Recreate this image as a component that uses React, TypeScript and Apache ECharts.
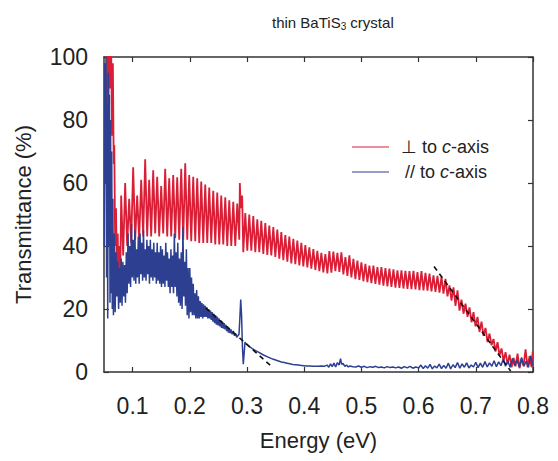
import React, { useEffect, useRef } from "react";
import * as echarts from "echarts";

const xTicks = [0.1, 0.2, 0.3, 0.4, 0.5, 0.6, 0.7, 0.8];
const yTicks = [0, 20, 40, 60, 80, 100];

// ⊥ to c-axis (energy eV, transmittance %)
const redPerp: [number, number][] = [
  [0.0545, 60], [0.0555, 104], [0.0575, 82], [0.059, 104], [0.061, 90], [0.0625, 104], [0.064, 75], [0.0655, 98],
  [0.067, 66], [0.068, 72], [0.0695, 40], [0.071, 52], [0.0725, 32], [0.074, 44], [0.0755, 25], [0.077, 40], [0.0785, 30],
  [0.080, 56], [0.0835, 37], [0.087, 60], [0.0905, 40], [0.094, 55], [0.0975, 41], [0.101, 65], [0.1045, 42],
  [0.108, 56], [0.1115, 42], [0.115, 61], [0.1185, 43], [0.122, 67.5], [0.1255, 43], [0.129, 61], [0.1325, 43],
  [0.136, 64], [0.1395, 44], [0.143, 62], [0.1465, 43], [0.150, 59], [0.1535, 44], [0.157, 64.5], [0.1605, 43],
  [0.164, 61.5], [0.1675, 43], [0.171, 62.5], [0.1745, 42.5], [0.178, 61.8], [0.1815, 42], [0.185, 64.5], [0.1885, 42],
  [0.192, 66.3], [0.1955, 42], [0.199, 62.5], [0.2025, 41.5], [0.206, 62], [0.2095, 41.5], [0.213, 61.5], [0.2165, 41],
  [0.220, 60.5], [0.2235, 41], [0.227, 59.5], [0.2305, 41], [0.234, 58.6], [0.2375, 41], [0.241, 57.5], [0.2445, 40.5],
  [0.248, 57], [0.2515, 40.5], [0.255, 56], [0.2585, 40.5], [0.262, 55.5], [0.2655, 40], [0.269, 54.5], [0.2725, 40],
  [0.276, 54], [0.2795, 40], [0.283, 53.5], [0.2865, 42], [0.2875, 60], [0.289, 52], [0.2915, 56], [0.2935, 38],
  [0.297, 50.5], [0.3005, 38.5], [0.304, 50], [0.3075, 38.5], [0.311, 49.5], [0.3145, 38], [0.318, 48.5], [0.3215, 38],
  [0.325, 48], [0.3285, 37.5], [0.332, 47.3], [0.3355, 37.2], [0.339, 46.5], [0.3425, 37], [0.346, 46], [0.3495, 36.5],
  [0.353, 45.2], [0.3565, 36], [0.360, 44.4], [0.3635, 35.5], [0.367, 43.5], [0.3705, 35], [0.374, 43], [0.3775, 34.5],
  [0.381, 42.3], [0.3845, 34.2], [0.388, 41.7], [0.3915, 33.8], [0.395, 41], [0.3985, 33.5], [0.402, 40.3], [0.4055, 33.2],
  [0.409, 39.6], [0.4125, 32.8], [0.416, 39], [0.4195, 32.4], [0.423, 38.5], [0.4265, 32], [0.430, 37.8], [0.4335, 31.6],
  [0.437, 37.4], [0.4405, 31.3], [0.444, 38.4], [0.4475, 31.5], [0.451, 38.2], [0.4545, 32], [0.458, 37.8], [0.4615, 31.8],
  [0.465, 38], [0.4685, 31], [0.472, 36.5], [0.4755, 30.5], [0.479, 37], [0.4825, 30], [0.486, 35.9], [0.4895, 29.5],
  [0.493, 35.4], [0.4965, 29.2], [0.500, 34.8], [0.5035, 28.8], [0.507, 34.3], [0.5105, 28.5], [0.514, 33.8], [0.5175, 28.2],
  [0.521, 33.8], [0.5245, 28], [0.528, 33.3], [0.5315, 27.7], [0.535, 33.3], [0.5385, 27.4], [0.542, 33], [0.5455, 27.2],
  [0.549, 32.8], [0.5525, 27], [0.556, 32.6], [0.5595, 26.8], [0.563, 32.3], [0.5665, 26.7], [0.570, 32.3], [0.5735, 26.5],
  [0.577, 32.1], [0.5805, 26.4], [0.584, 32], [0.5875, 26.3], [0.591, 32.1], [0.5945, 26.2], [0.598, 31.7], [0.6015, 26],
  [0.605, 32], [0.6085, 25.9], [0.612, 31.5], [0.6155, 25.8], [0.619, 31.2], [0.6225, 25.6], [0.626, 30.7], [0.6295, 25.4],
  [0.633, 30.5], [0.6365, 25.2], [0.640, 30.2], [0.6435, 24.9], [0.647, 29.6], [0.6505, 24], [0.654, 27.5], [0.6575, 22.7],
  [0.661, 26.9], [0.6645, 21], [0.668, 25.9], [0.6715, 19.5], [0.675, 23], [0.6785, 18.5], [0.682, 21.7], [0.6855, 17.5],
  [0.689, 20.5], [0.6925, 15.8], [0.696, 19], [0.6995, 14.5], [0.703, 17.5], [0.7065, 12.7], [0.710, 16], [0.7135, 11.5],
  [0.717, 14], [0.7205, 9.5], [0.724, 12.2], [0.7275, 8.5], [0.731, 10.5], [0.7345, 6.5], [0.738, 9.5], [0.7415, 5.2],
  [0.745, 7.5], [0.7485, 3.5], [0.752, 6.3], [0.7555, 2.5], [0.759, 5.5], [0.7625, 1.5], [0.766, 4.5], [0.7695, 1.8],
  [0.773, 5.8], [0.7765, 1.2], [0.780, 4.2], [0.7835, 2], [0.787, 7.2], [0.7905, 1.5], [0.794, 5], [0.7975, 1.5], [0.7995, 6.5],
];

// // to c-axis
const bluePar: [number, number][] = [
  [0.0505, 40], [0.0515, 98], [0.0525, 60], [0.0535, 100], [0.0545, 30], [0.0555, 85], [0.0565, 17], [0.0575, 95],
  [0.0585, 40], [0.0595, 88], [0.0605, 22], [0.0615, 80], [0.0625, 25], [0.0635, 70], [0.0645, 20], [0.0655, 55],
  [0.0665, 18], [0.068, 44], [0.0695, 19], [0.071, 38], [0.0725, 24], [0.074, 35], [0.0755, 20], [0.077, 33],
  [0.0785, 22], [0.080, 36], [0.0815, 21], [0.083, 35], [0.0845, 24], [0.086, 34], [0.0875, 22], [0.089, 38],
  [0.0905, 25], [0.092, 44], [0.0935, 28], [0.095, 40], [0.0965, 27], [0.098, 47], [0.0995, 30], [0.101, 42],
  [0.1025, 29], [0.104, 45], [0.1055, 28], [0.107, 39], [0.1085, 30], [0.110, 43], [0.1115, 28], [0.113, 44],
  [0.1145, 31], [0.116, 41], [0.1175, 29], [0.119, 45], [0.1205, 30], [0.122, 39], [0.1235, 29], [0.125, 42],
  [0.1265, 31], [0.128, 40], [0.1295, 28], [0.131, 42], [0.1325, 30], [0.134, 39], [0.1355, 29], [0.137, 41],
  [0.1385, 30], [0.140, 38], [0.1415, 28], [0.143, 41], [0.1445, 29], [0.146, 38], [0.1475, 28], [0.149, 40],
  [0.1505, 27], [0.152, 39], [0.1535, 28], [0.155, 37], [0.1565, 27], [0.158, 41], [0.1595, 29], [0.161, 38],
  [0.1625, 27], [0.164, 36], [0.1655, 25], [0.167, 39], [0.1685, 27], [0.170, 37], [0.1715, 25], [0.173, 44],
  [0.1745, 27], [0.176, 38], [0.1775, 24], [0.179, 41], [0.1805, 22], [0.182, 36], [0.1835, 21], [0.185, 38],
  [0.1865, 20], [0.188, 46], [0.1895, 24], [0.191, 35], [0.1925, 21], [0.194, 39], [0.1955, 18], [0.197, 33],
  [0.1985, 17], [0.200, 33], [0.2015, 19], [0.203, 30], [0.2045, 18], [0.206, 28], [0.2075, 18], [0.209, 25],
  [0.2105, 17], [0.212, 26], [0.2135, 17], [0.215, 24], [0.2165, 17], [0.218, 22.5], [0.2195, 17.5], [0.221, 22],
  [0.2225, 17], [0.224, 21.5], [0.2255, 17.5], [0.227, 21], [0.2285, 17.5], [0.230, 20.5], [0.2315, 17], [0.233, 20],
  [0.2345, 17], [0.236, 19.5], [0.2375, 16.5], [0.239, 19], [0.2405, 16], [0.242, 18.5], [0.2435, 15.5], [0.245, 18],
  [0.2465, 15], [0.248, 17.5], [0.2495, 14.8], [0.251, 17], [0.2525, 14.5], [0.254, 16.5], [0.2555, 14], [0.257, 16],
  [0.2585, 13.8], [0.260, 15.5], [0.2615, 13.5], [0.263, 15], [0.2645, 13], [0.266, 14.5], [0.2675, 12.5], [0.269, 14],
  [0.2705, 12.3], [0.272, 13.5], [0.274, 12], [0.276, 13], [0.278, 11.5], [0.280, 12.2], [0.282, 11], [0.284, 11.5],
  [0.286, 12], [0.2875, 17], [0.289, 23], [0.2905, 18], [0.292, 8], [0.2935, 2.5], [0.295, 6], [0.2965, 9.5],
  [0.298, 9], [0.300, 8.8], [0.305, 8], [0.310, 7.3], [0.315, 6.8], [0.320, 6.3], [0.325, 5.8], [0.330, 5.3],
  [0.335, 4.9], [0.340, 4.5], [0.345, 4.1], [0.350, 3.8], [0.355, 3.5], [0.360, 3.2], [0.365, 3], [0.370, 2.8],
  [0.375, 2.6], [0.380, 2.4], [0.385, 2.3], [0.390, 2.2], [0.395, 2.1], [0.400, 2.0], [0.405, 1.9], [0.410, 1.9],
  [0.415, 1.8], [0.420, 1.8], [0.425, 1.8], [0.430, 1.9], [0.435, 1.8], [0.440, 2.2], [0.443, 1.5], [0.446, 2.6],
  [0.449, 1.7], [0.452, 2.8], [0.455, 1.6], [0.458, 3.0], [0.461, 2.2], [0.4635, 4.2], [0.4655, 2.4], [0.468, 2.7],
  [0.471, 1.8], [0.474, 2.2], [0.477, 1.6], [0.480, 1.9], [0.485, 1.7], [0.490, 1.6], [0.495, 1.9], [0.500, 1.5],
  [0.505, 1.8], [0.510, 1.4], [0.515, 1.7], [0.520, 1.5], [0.525, 1.8], [0.530, 1.4], [0.535, 1.6], [0.540, 1.3],
  [0.545, 1.7], [0.550, 1.4], [0.555, 1.6], [0.560, 1.3], [0.565, 1.6], [0.570, 1.2], [0.575, 1.7], [0.580, 1.3],
  [0.585, 1.8], [0.590, 1.2], [0.595, 1.6], [0.600, 1.3], [0.604, 2.2], [0.608, 1.1], [0.612, 2.0], [0.616, 1.2],
  [0.620, 2.4], [0.624, 1.0], [0.628, 1.9], [0.632, 1.3], [0.636, 2.5], [0.640, 1.1], [0.644, 2.1], [0.648, 1.2],
  [0.652, 2.8], [0.656, 1.0], [0.660, 2.3], [0.664, 1.4], [0.668, 3.0], [0.672, 1.2], [0.676, 2.6], [0.680, 1.5],
  [0.684, 2.9], [0.688, 1.3], [0.692, 2.2], [0.696, 1.6], [0.700, 3.1], [0.704, 1.4], [0.708, 2.8], [0.712, 1.5],
  [0.716, 3.3], [0.720, 1.6], [0.724, 2.9], [0.728, 1.8], [0.732, 3.6], [0.736, 1.7], [0.740, 3.2], [0.744, 2.0],
  [0.748, 4.1], [0.752, 1.8], [0.756, 3.5], [0.760, 1.5], [0.764, 4.3], [0.768, 2.0], [0.772, 3.8], [0.776, 1.6],
  [0.780, 4.6], [0.784, 1.8], [0.788, 3.4], [0.792, 1.5], [0.796, 5.2], [0.7995, 2.0],
];

const redFit: [number, number][] = [[0.627, 33.5], [0.761, 0.3]];
const blueFit: [number, number][] = [[0.228, 20.3], [0.344, 1.6]];

const RED = "#d91e36";
const BLUE = "#2c3f91";
const AXIS = "#333";
const FONT = "Liberation Sans, Arial, sans-serif";

export default function App() {
  const ref = useRef<HTMLDivElement>(null);
  useEffect(() => {
    document.body.style.margin = "0";
    const chart = echarts.init(ref.current!, null, { renderer: "svg" });
    const axisLine = { show: true, onZero: false, lineStyle: { color: AXIS, width: 1.5 } };
    const tickStyle = { color: AXIS, width: 1.2 };
    chart.setOption({
      animation: false,
      backgroundColor: "#fff",
      title: {
        text: "{a|thin BaTiS}{s|3}{a| crystal}",
        left: 267,
        top: 8,
        textStyle: {
          fontWeight: "normal",
          rich: {
            a: { fontSize: 15, fontFamily: FONT, color: "#222", fontWeight: "normal" },
            s: { fontSize: 10, fontFamily: FONT, color: "#222", fontWeight: "normal", verticalAlign: "bottom", padding: [8, 0, 0, 0] },
          },
        },
      },
      grid: { left: 104, right: 25, top: 57, bottom: 89 },
      xAxis: [
        {
          type: "value", min: 0.05, max: 0.8, position: "bottom",
          axisLine,
          axisTick: { show: true, inside: true, length: 5, lineStyle: tickStyle, customValues: xTicks },
          axisLabel: { customValues: xTicks, formatter: (v: number) => v.toFixed(1), fontSize: 23, fontFamily: FONT, color: "#222", margin: 22 },
          splitLine: { show: false },
          name: "Energy (eV)", nameLocation: "middle", nameGap: 57,
          nameTextStyle: { fontSize: 22, fontFamily: FONT, color: "#222" },
        },
        {
          type: "value", min: 0.05, max: 0.8, position: "top",
          axisLine,
          axisTick: { show: true, inside: true, length: 5, lineStyle: tickStyle, customValues: xTicks },
          axisLabel: { show: false },
          splitLine: { show: false },
        },
      ],
      yAxis: [
        {
          type: "value", min: 0, max: 100, interval: 20, position: "left",
          axisLine,
          axisTick: { show: true, inside: true, length: 5, lineStyle: tickStyle },
          axisLabel: { fontSize: 23, fontFamily: FONT, color: "#222", margin: 16 },
          splitLine: { show: false },
          name: "Transmittance (%)", nameLocation: "middle", nameGap: 70, nameRotate: 90,
          nameTextStyle: { fontSize: 22, fontFamily: FONT, color: "#222" },
        },
        {
          type: "value", min: 0, max: 100, interval: 20, position: "right",
          axisLine,
          axisTick: { show: true, inside: true, length: 5, lineStyle: tickStyle },
          axisLabel: { show: false },
          splitLine: { show: false },
        },
      ],
      series: [
        {
          type: "line", name: "perp", data: redPerp, showSymbol: false, symbol: "none",
          lineStyle: { color: RED, width: 1.8 }, clip: true, z: 2,
        },
        {
          type: "line", name: "par", data: bluePar, showSymbol: false, symbol: "none",
          lineStyle: { color: BLUE, width: 1.5 }, clip: true, z: 3,
        },
        {
          type: "line", name: "fitRed", data: redFit, showSymbol: false, symbol: "none",
          lineStyle: { color: "#111", width: 1.6, type: [5, 4] }, z: 4,
        },
        {
          type: "line", name: "fitBlue", data: blueFit, showSymbol: false, symbol: "none",
          lineStyle: { color: "#111", width: 1.6, type: [5, 4] }, z: 4,
        },
      ],
      graphic: [
        { type: "line", shape: { x1: 352, y1: 147, x2: 389, y2: 147 }, style: { stroke: RED, lineWidth: 1.2 } },
        { type: "line", shape: { x1: 352, y1: 172, x2: 389, y2: 172 }, style: { stroke: BLUE, lineWidth: 1.2 } },
        {
          type: "text", x: 401, y: 147,
          style: {
            text: "{n|⊥ to }{i|c}{n|-axis}", verticalAlign: "middle",
            rich: { n: { fontSize: 18, fontFamily: FONT, fill: "#222" }, i: { fontSize: 18, fontFamily: FONT, fontStyle: "italic", fill: "#222" } },
          },
        },
        {
          type: "text", x: 405, y: 172,
          style: {
            text: "{n|// to }{i|c}{n|-axis}", verticalAlign: "middle",
            rich: { n: { fontSize: 18, fontFamily: FONT, fill: "#222" }, i: { fontSize: 18, fontFamily: FONT, fontStyle: "italic", fill: "#222" } },
          },
        },
      ],
    });
    return () => chart.dispose();
  }, []);
  return <div ref={ref} style={{ width: 558, height: 461 }} />;
}
